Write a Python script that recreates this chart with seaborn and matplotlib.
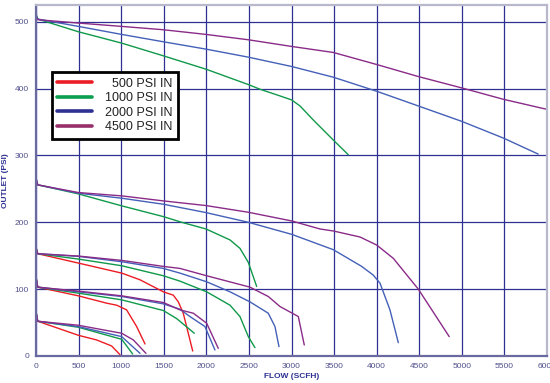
import matplotlib
matplotlib.use("Agg")
import matplotlib.pyplot as plt
from matplotlib.lines import Line2D
import seaborn as sns
import pandas as pd

# ---------------- data (flow in SCFH, outlet in PSI) ----------------
inlet_labels = ["500 PSI IN", "1000 PSI IN", "2000 PSI IN", "4500 PSI IN"]

# outlet 500 psi
flow_o500_i1000 = [0, 20, 497, 1006, 1495, 1996, 2493, 2630, 2865, 3002, 3100, 3256, 3491, 3667]
psi_o500_i1000 = [512, 504, 485, 468, 449, 429, 406, 399, 389, 383, 374, 353, 323, 301]
flow_o500_i2000 = [0, 20, 497, 1006, 1495, 1996, 2493, 3002, 3491, 4000, 4489, 4998, 5487, 5897]
psi_o500_i2000 = [510, 504, 493, 481, 470, 459, 447, 433, 417, 396, 374, 351, 326, 302]
flow_o500_i4500 = [0, 20, 497, 1006, 1495, 1996, 2493, 3002, 3491, 4000, 4489, 4998, 5487, 5996]
psi_o500_i4500 = [508, 503, 498, 493, 488, 481, 473, 463, 454, 436, 418, 401, 384, 369]

# outlet 250 psi
flow_o250_i1000 = [0, 20, 497, 1006, 1495, 1710, 1996, 2278, 2395, 2493, 2591]
psi_o250_i1000 = [266, 256, 242.5, 224.6, 208.5, 200, 190, 173.6, 161, 140, 104]
flow_o250_i2000 = [0, 20, 497, 1006, 1495, 1996, 2493, 3002, 3491, 3824, 3960, 4039, 4156, 4254]
psi_o250_i2000 = [266, 256, 243.5, 236, 227, 214.5, 200, 182, 159, 134, 121, 109, 69, 20]
flow_o250_i4500 = [0, 20, 497, 1006, 1495, 1996, 2493, 3002, 3334, 3491, 3804, 4000, 4196, 4489, 4852]
psi_o250_i4500 = [266, 256, 244.5, 239.5, 232, 225, 215, 202, 190, 187, 178, 166, 146, 100, 29]

# outlet 150 psi
flow_o150_i500 = [0, 20, 497, 1006, 1221, 1495, 1612, 1671, 1729, 1840]
psi_o150_i500 = [162, 153, 139, 124, 114, 96, 91, 81, 64, 7.5]
flow_o150_i1000 = [0, 20, 497, 1006, 1495, 1690, 2004, 2278, 2395, 2493, 2571]
psi_o150_i1000 = [162, 153, 145, 135, 120, 112, 96, 76, 59, 29, 12.5]
flow_o150_i2000 = [0, 20, 497, 1006, 1495, 1690, 2004, 2278, 2512, 2727, 2806, 2853]
psi_o150_i2000 = [162, 153, 149, 141, 131, 124, 111, 96, 81, 64, 44, 14]
flow_o150_i4500 = [0, 20, 497, 1006, 1495, 1690, 2004, 2512, 2727, 2865, 3080, 3150]
psi_o150_i4500 = [162, 153, 149.5, 143, 134, 131, 120, 103, 89, 74, 59, 16.5]

# outlet 100 psi
flow_o100_i500 = [0, 20, 497, 830, 947, 1064, 1182, 1280]
psi_o100_i500 = [118, 103, 90, 79, 76, 69, 44, 18]
flow_o100_i1000 = [0, 20, 497, 1006, 1495, 1651, 1859]
psi_o100_i1000 = [118, 103, 94, 84, 68, 56, 34]
flow_o100_i2000 = [0, 20, 497, 1006, 1495, 1690, 1808, 1984, 2101]
psi_o100_i2000 = [118, 103, 96, 89, 78, 70, 59, 44, 9]
flow_o100_i4500 = [0, 20, 497, 1006, 1495, 1690, 1847, 2004, 2140]
psi_o100_i4500 = [118, 103, 97, 90, 80, 69, 64, 49, 11.5]

# outlet 50 psi
flow_o50_i500 = [0, 20, 497, 712, 888, 986]
psi_o50_i500 = [66, 52, 31, 24, 15, 2]
flow_o50_i1000 = [0, 20, 497, 1006, 1135]
psi_o50_i1000 = [66, 52, 43, 25, 3]
flow_o50_i2000 = [0, 20, 497, 1006, 1221]
psi_o50_i2000 = [66, 52, 44, 29, 4]
flow_o50_i4500 = [0, 20, 497, 1006, 1143, 1291]
psi_o50_i4500 = [66, 52, 46, 34, 24, 4]

x_ticks = [0, 500, 1000, 1500, 2000, 2500, 3000, 3500, 4000, 4500, 5000, 5500, 6000]
y_ticks = [0, 100, 200, 300, 400, 500]

curves = [
    ("o500_i1000", "1000 PSI IN", flow_o500_i1000, psi_o500_i1000),
    ("o500_i2000", "2000 PSI IN", flow_o500_i2000, psi_o500_i2000),
    ("o500_i4500", "4500 PSI IN", flow_o500_i4500, psi_o500_i4500),
    ("o250_i1000", "1000 PSI IN", flow_o250_i1000, psi_o250_i1000),
    ("o250_i2000", "2000 PSI IN", flow_o250_i2000, psi_o250_i2000),
    ("o250_i4500", "4500 PSI IN", flow_o250_i4500, psi_o250_i4500),
    ("o150_i500", "500 PSI IN", flow_o150_i500, psi_o150_i500),
    ("o150_i1000", "1000 PSI IN", flow_o150_i1000, psi_o150_i1000),
    ("o150_i2000", "2000 PSI IN", flow_o150_i2000, psi_o150_i2000),
    ("o150_i4500", "4500 PSI IN", flow_o150_i4500, psi_o150_i4500),
    ("o100_i500", "500 PSI IN", flow_o100_i500, psi_o100_i500),
    ("o100_i1000", "1000 PSI IN", flow_o100_i1000, psi_o100_i1000),
    ("o100_i2000", "2000 PSI IN", flow_o100_i2000, psi_o100_i2000),
    ("o100_i4500", "4500 PSI IN", flow_o100_i4500, psi_o100_i4500),
    ("o50_i500", "500 PSI IN", flow_o50_i500, psi_o50_i500),
    ("o50_i1000", "1000 PSI IN", flow_o50_i1000, psi_o50_i1000),
    ("o50_i2000", "2000 PSI IN", flow_o50_i2000, psi_o50_i2000),
    ("o50_i4500", "4500 PSI IN", flow_o50_i4500, psi_o50_i4500),
]

rows = []
for cid, inlet, fx, py in curves:
    for i, (a, b) in enumerate(zip(fx, py)):
        rows.append({"curve": cid, "inlet": inlet, "flow": a, "outlet": b, "order": i})
df = pd.DataFrame(rows)

line_colors = {"500 PSI IN": "#ec1c24", "1000 PSI IN": "#10994a",
               "2000 PSI IN": "#4460b8", "4500 PSI IN": "#8a2b88"}
legend_colors = {"500 PSI IN": "#ec1c24", "1000 PSI IN": "#0aa04f",
                 "2000 PSI IN": "#2e3192", "4500 PSI IN": "#97306a"}

# ---------------- plot ----------------
sns.set_theme(style="white")
plt.rcParams["font.family"] = ["Liberation Sans", "DejaVu Sans"]

fig = plt.figure(figsize=(5.5, 3.83), dpi=100)
ax = fig.add_axes([36 / 550, 27 / 383, 511 / 550, 351 / 383])

navy = "#2e3192"
ax.set_xlim(0, 6000)
ax.set_ylim(0, 525)
ax.set_xticks(x_ticks)
ax.set_yticks(y_ticks)
ax.grid(True, color=navy, linewidth=0.9, zorder=0)
ax.set_axisbelow(True)

sns.lineplot(data=df, x="flow", y="outlet", hue="inlet", units="curve",
             estimator=None, sort=False, palette=line_colors,
             hue_order=inlet_labels, linewidth=1.0, legend=False, ax=ax)

for s in ["top", "right"]:
    ax.spines[s].set_color("#b8b8cc")
    ax.spines[s].set_linewidth(1.6)
for s in ["left", "bottom"]:
    ax.spines[s].set_color("#6a6aa0")
    ax.spines[s].set_linewidth(1.6)

ax.tick_params(axis="both", labelsize=6, colors="#50508c", length=3,
               width=0.8, direction="out", pad=2)
ax.tick_params(axis="both", which="both", color="#50508c")
ax.set_xticklabels([str(v) for v in x_ticks])
ax.set_yticklabels([str(v) for v in y_ticks])

ax.set_xlabel("FLOW (SCFH)", fontsize=6, fontweight="bold", color=navy, labelpad=2)
ax.set_ylabel("OUTLET (PSI)", fontsize=6, fontweight="bold", color=navy, labelpad=4)

handles = [Line2D([0], [0], color=legend_colors[l], lw=2.6) for l in inlet_labels]
labels = ["  500 PSI IN", "1000 PSI IN", "2000 PSI IN", "4500 PSI IN"]
leg = ax.legend(handles, labels, loc="upper left", bbox_to_anchor=(0.031, 0.809),
                fontsize=9, frameon=True, fancybox=False, framealpha=1,
                edgecolor="black", handlelength=2.8, labelspacing=0.2,
                borderpad=0.45, handletextpad=1.0, borderaxespad=0)
leg.get_frame().set_linewidth(2.0)
for t in leg.get_texts():
    t.set_color("#222222")

fig.savefig("out.png", dpi=100)
